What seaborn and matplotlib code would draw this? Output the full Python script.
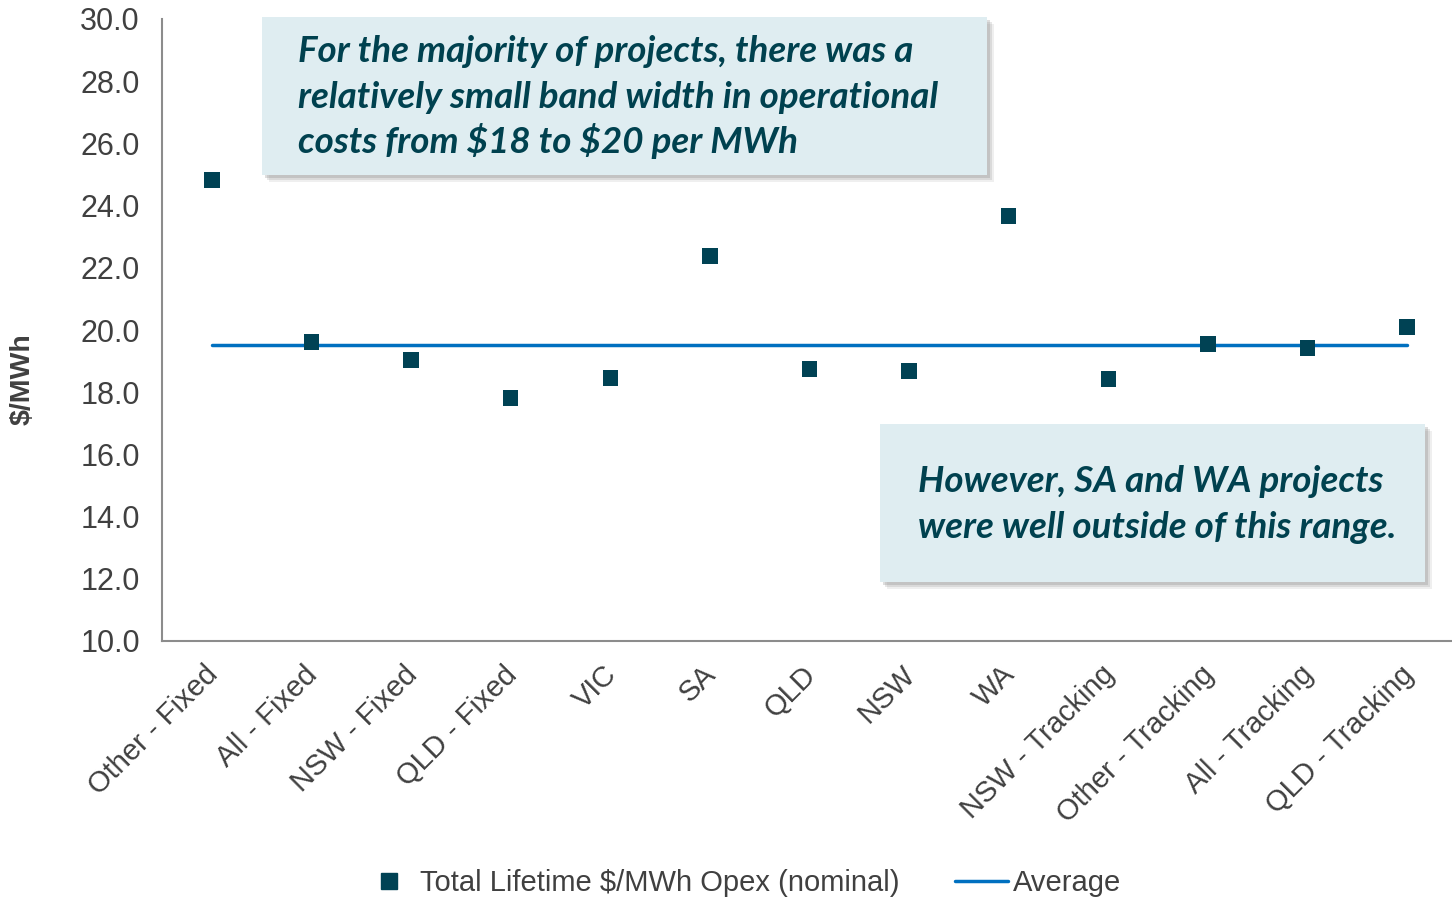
import matplotlib
matplotlib.use("Agg")
import matplotlib.pyplot as plt
import seaborn as sns
import pandas as pd
from matplotlib.patches import Rectangle
from matplotlib.lines import Line2D
from matplotlib.transforms import ScaledTranslation

categories = ["Other - Fixed", "All - Fixed", "NSW - Fixed", "QLD - Fixed", "VIC", "SA",
              "QLD", "NSW", "WA", "NSW - Tracking", "Other - Tracking", "All - Tracking",
              "QLD - Tracking"]
opex = [24.82, 19.61, 19.04, 17.81, 18.46, 22.38, 18.75, 18.68, 23.67, 18.42, 19.55, 19.42, 20.10]
average = [19.52] * len(categories)

series_label = "Total Lifetime $/MWh Opex (nominal)"
avg_label = "Average"
note_top = ["For the majority of projects, there was a",
            "relatively small band width in operational",
            "costs from \\$18 to \\$20 per MWh"]
note_bottom = ["However, SA and WA projects",
               "were well outside of this range."]

marker_color = "#004254"
line_color = "#0070C0"
axis_color = "#8C8C8C"
text_color = "#404040"
note_color = "#00414F"
box_color = "#DFEDF1"

W, H = 1452, 899

sns.set_style("white")
plt.rcParams["font.family"] = ["Liberation Sans", "DejaVu Sans"]

df = pd.DataFrame({"pos": range(len(categories)), "opex": opex, "avg": average})

fig = plt.figure(figsize=(W / 100, H / 100), dpi=100)
ax = fig.add_axes([162 / W, 1 - 641 / H, 1295 / W, 622 / H])

sns.lineplot(data=df, x="pos", y="avg", color=line_color, linewidth=2.5, ax=ax, zorder=2)
sns.scatterplot(data=df, x="pos", y="opex", marker="s", s=125, color=marker_color,
                edgecolor="none", ax=ax, zorder=3)

ax.set_xlim(-0.5, 12.5)
ax.set_ylim(10, 30)
ax.set_yticks([10 + 2 * i for i in range(11)])
ax.set_yticklabels([f"{10 + 2 * i:.1f}" for i in range(11)])
ax.set_xticks(range(len(categories)))
ax.set_xticklabels(categories, rotation=45, ha="right", va="top", rotation_mode="anchor")
ax.set_xticks([i - 0.5 for i in range(len(categories) + 1)], minor=True)
ax.tick_params(axis="x", which="major", length=0, pad=14, labelsize=21, labelcolor=text_color)
ax.tick_params(axis="x", which="minor", length=8, width=1.5, color=axis_color, direction="out")
ax.tick_params(axis="y", length=8, width=1.5, color=axis_color, direction="out",
               labelsize=22, labelcolor=text_color, pad=8)
# nudge the rotated labels a little to the left
shift = ScaledTranslation(-8 / 100, 0, fig.dpi_scale_trans)
for lab in ax.get_xticklabels():
    lab.set_transform(lab.get_transform() + shift)

for side in ["top", "right"]:
    ax.spines[side].set_visible(False)
for side in ["left", "bottom"]:
    ax.spines[side].set_color(axis_color)
    ax.spines[side].set_linewidth(1.5)

ax.set_xlabel("")
ax.set_ylabel("")
fig.text(23 / W, 1 - 379 / H, "$/MWh", rotation=90, fontsize=20.5, fontweight="bold",
         color=text_color, ha="center", va="center")

# note boxes with a soft shadow
def note_box(x0, y0, x1, y1):
    for k, a in [(7, 0.12), (5, 0.18), (3, 0.25)]:
        fig.patches.append(Rectangle(((x0 + k) / W, 1 - (y1 + k) / H), (x1 - x0) / W, (y1 - y0) / H,
                                     transform=fig.transFigure, facecolor="#7F7F7F",
                                     edgecolor="none", alpha=a, zorder=5))
    fig.patches.append(Rectangle((x0 / W, 1 - y1 / H), (x1 - x0) / W, (y1 - y0) / H,
                                 transform=fig.transFigure, facecolor=box_color,
                                 edgecolor="none", zorder=6))

def note_text(x, baselines, lines):
    for yb, line in zip(baselines, lines):
        fig.text(x / W, 1 - yb / H, line, family=["Lato", "DejaVu Sans"], fontsize=26.5,
                 fontweight="bold", style="italic", color=note_color, va="baseline",
                 ha="left", zorder=7)

note_box(262, 17, 987, 175)
note_box(880, 424, 1425, 582)
note_text(298, [62, 108, 153], note_top)
note_text(918, [492, 538], note_bottom)

handles = [Line2D([], [], marker="s", linestyle="none", color=marker_color, markersize=11),
           Line2D([], [], color=line_color, linewidth=2.5)]
leg = fig.legend(handles, [series_label, avg_label], loc="center", ncol=2,
                 bbox_to_anchor=(742 / W, 1 - 883 / H), frameon=False,
                 prop={"family": ["Liberation Sans", "DejaVu Sans"], "size": 21},
                 handlelength=1.8, handletextpad=0.18, columnspacing=1.9)
for t in leg.get_texts():
    t.set_color(text_color)

fig.savefig("out.png", dpi=100)
